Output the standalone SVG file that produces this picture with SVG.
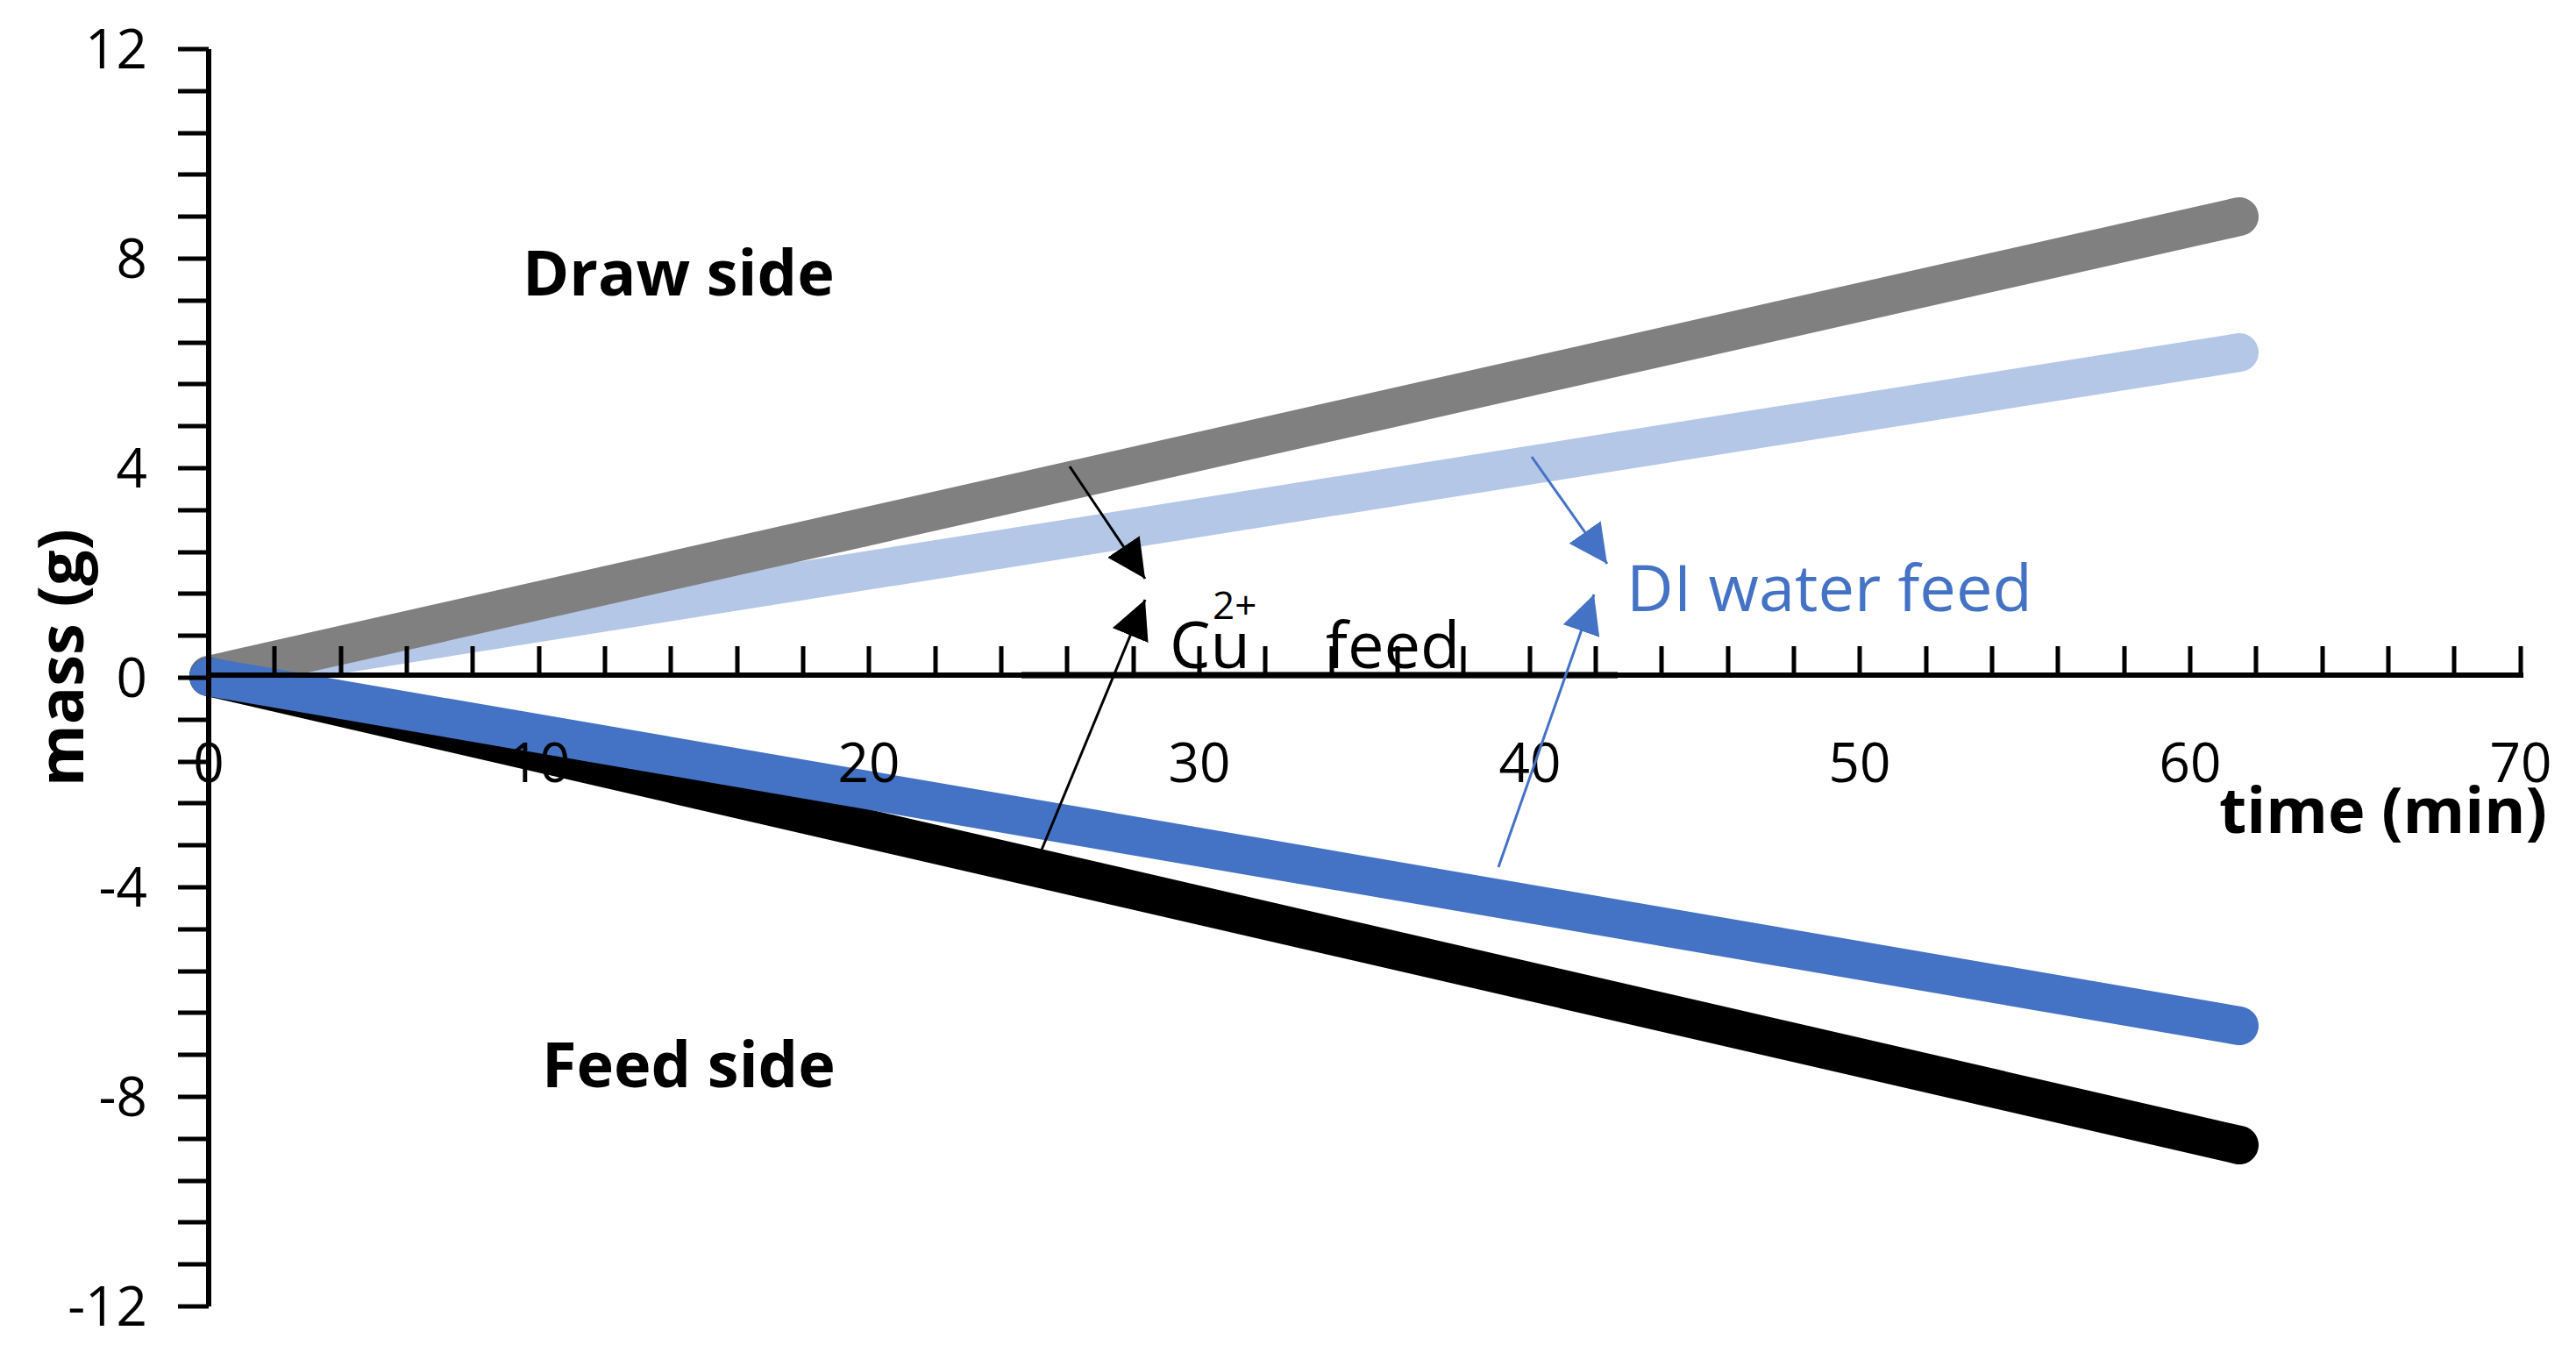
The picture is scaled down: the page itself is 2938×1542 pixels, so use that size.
<svg xmlns="http://www.w3.org/2000/svg" width="2938" height="1542" viewBox="0 0 2938 1542">
<style>
.t{font-family:"Open Sans","Liberation Sans",sans-serif;font-size:62px;fill:#000}
.b{font-family:"Open Sans","Liberation Sans",sans-serif;font-weight:bold;font-size:72px;fill:#000}
.ax{stroke:#000;stroke-width:6;fill:none}
.tk{stroke:#000;stroke-width:5}
.s{fill:none;stroke-width:44;stroke-linecap:round}
</style>
<defs>
<marker id="ak" viewBox="0 0 10 10" refX="10" refY="5" markerWidth="44" markerHeight="44" markerUnits="userSpaceOnUse" orient="auto"><path d="M0,0L10,5L0,10z" fill="#000"/></marker>
<marker id="ab" viewBox="0 0 10 10" refX="10" refY="5" markerWidth="44" markerHeight="44" markerUnits="userSpaceOnUse" orient="auto"><path d="M0,0L10,5L0,10z" fill="#4472c4"/></marker>
</defs>
<rect width="2938" height="1542" fill="#fff"/>
<g id="series">
<path class="s" stroke="#b4c7e7" d="M238,770 L2554,402"/>
<path class="s" stroke="#808080" d="M238,770 L2554,247"/>
<path class="s" stroke="#000" d="M238,772 L2554,1306"/>
<path class="s" stroke="#4472c4" d="M238,772 L2554,1170"/>
</g>
<g id="axes">
<path class="ax" d="M238,56 V1490 M238,770 H2878"/>
<path class="tk" d="M203,56H238M203,104H238M203,152H238M203,199H238M203,247H238M203,295H238M203,343H238M203,391H238M203,438H238M203,486H238M203,534H238M203,582H238M203,630H238M203,677H238M203,725H238M203,773H238M203,821H238M203,869H238M203,916H238M203,964H238M203,1012H238M203,1060H238M203,1108H238M203,1155H238M203,1203H238M203,1251H238M203,1299H238M203,1347H238M203,1394H238M203,1442H238M203,1490H238"/>
<path class="tk" d="M313,770V737M389,770V737M464,770V737M539,770V737M615,770V737M690,770V737M765,770V737M841,770V737M916,770V737M991,770V737M1067,770V737M1142,770V737M1217,770V737M1293,770V737M1368,770V737M1443,770V737M1519,770V737M1594,770V737M1669,770V737M1745,770V737M1820,770V737M1895,770V737M1971,770V737M2046,770V737M2121,770V737M2197,770V737M2272,770V737M2347,770V737M2423,770V737M2498,770V737M2573,770V737M2649,770V737M2724,770V737M2799,770V737M2875,770V737"/>
</g>
<g id="ylabels" class="t" text-anchor="end">
<text x="168" y="78">12</text><text x="168" y="317">8</text><text x="168" y="556">4</text><text x="168" y="795">0</text>
<text x="168" y="1034">-4</text><text x="168" y="1273">-8</text><text x="168" y="1512">-12</text>
</g>
<g id="xlabels" class="t" text-anchor="middle">
<text x="238" y="892">0</text><text x="615" y="892">10</text><text x="991" y="892">20</text><text x="1368" y="892">30</text>
<text x="1745" y="892">40</text><text x="2121" y="892">50</text><text x="2498" y="892">60</text><text x="2875" y="892">70</text>
</g>
<text class="b" transform="translate(95,750) rotate(-90)" text-anchor="middle">mass (g)</text>
<text class="b" x="2905" y="950" text-anchor="end">time (min)</text>
<text class="b" x="596" y="337">Draw side</text>
<text class="b" x="618" y="1240">Feed side</text>
<rect x="1165" y="766" width="680" height="8" fill="#000" opacity="0.6"/>
<g id="cu-label">
<text class="t" x="1334" y="762" style="font-size:74px">Cu</text>
<text class="t" x="1383" y="706" style="font-size:44px">2+</text>
<text class="t" x="1512" y="762" style="font-size:74px">feed</text>
</g>
<text id="di-label" class="t" x="1855" y="697" style="font-size:74px;fill:#4472c4">DI water feed</text>
<g id="connectors">
<path d="M1220,532 L1306,660" stroke="#000" stroke-width="3" marker-end="url(#ak)"/>
<path d="M1186,974 L1306,684" stroke="#000" stroke-width="3" marker-end="url(#ak)"/>
<path d="M1747,521 L1833,643" stroke="#4472c4" stroke-width="3" marker-end="url(#ab)"/>
<path d="M1709,989 L1818,678" stroke="#4472c4" stroke-width="3" marker-end="url(#ab)"/>
</g>
</svg>
